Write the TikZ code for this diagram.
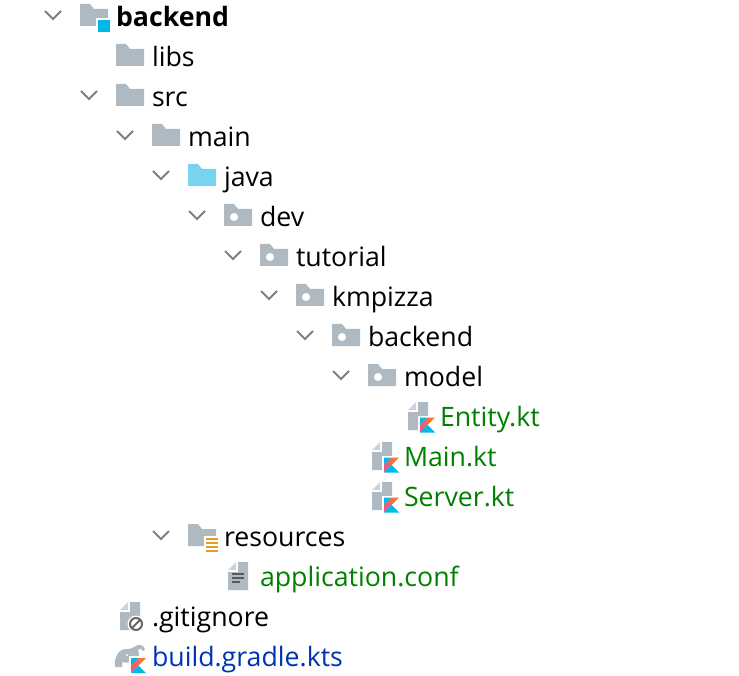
\documentclass[tikz,border=0pt]{standalone}
\usepackage{fontspec}
\setmainfont{Open Sans}
\usepackage{xcolor}
\definecolor{icongray}{HTML}{AFB9C1}
\definecolor{foldgray}{HTML}{CDD3D8}
\definecolor{chevgray}{HTML}{7F7F7F}
\definecolor{javablue}{HTML}{76D4EF}
\definecolor{modblue}{HTML}{00B8E6}
\definecolor{resorange}{HTML}{E2A024}
\definecolor{vcsgreen}{HTML}{008000}
\definecolor{vcsblue}{HTML}{0033B3}
\definecolor{ktpink}{HTML}{E8558F}
\definecolor{ktorange}{HTML}{F88909}

\begin{document}
\begin{tikzpicture}[
    x=1pt, y=-1pt,
    lbl/.style={anchor=base west, inner sep=0pt, outer sep=0pt, yshift=-0.5pt, font=\fontsize{26.7}{30}\selectfont},
    added/.style={lbl, text=vcsgreen},
    gradlefile/.style={lbl, text=vcsblue},
    chev/.pic={\draw[chevgray, line width=1.8pt] (-8,-6) -- (0,2) -- (8,-6);},
    folder/.pic={\fill[icongray] (0,-13) -- (10,-13) -- (14,-8) -- (28,-8) -- (28,9) -- (0,9) -- cycle;},
    srcfolder/.pic={\fill[javablue] (0,-13) -- (10,-13) -- (14,-8) -- (28,-8) -- (28,9) -- (0,9) -- cycle;},
    pkg/.pic={\pic {folder};
              \fill[white] (10,0) circle (4);},
    page/.pic={\fill[foldgray] (0,-7) -- (8,-15) -- (8,-7) -- cycle;
               \fill[icongray] (10,-15) -- (20,-15) -- (20,13) -- (0,13) -- (0,-5) -- (10,-5) -- cycle;},
    kotlin/.pic={\fill[white] (-2,-2) rectangle (15,15);
                 \fill[modblue] (0,0) -- (7.5,0) -- (0,7.5) -- cycle;
                 \shade[left color=ktpink, middle color=ktorange!80!ktpink, right color=ktorange] (7.5,0) -- (15,0) -- (0,15) -- (0,7.5) -- cycle;
                 \fill[modblue] (7.5,7.5) -- (15,15) -- (0,15) -- cycle;},
    ktfile/.pic={\pic {page}; \pic at (12,0.5) {kotlin};}
]
\useasboundingbox (0,0) rectangle (739,676);

% project root, with the module mark
\pic at (53,17) {chev};
\pic at (80,17) {folder};
\fill[white] (96,18) rectangle (112,34);
\fill[modblue] (98,20) rectangle (110,32);
\node[lbl, font=\fontsize{26.7}{30}\selectfont\bfseries] (root) at (116,26) {backend};

\pic at (116,57) {folder};
\node[lbl] (libs) at (152,66) {libs};

\pic at (89,97) {chev};
\pic at (116,97) {folder};
\node[lbl] (src) at (152,106) {src};

\pic at (125,137) {chev};
\pic at (152,137) {folder};
\node[lbl] (main) at (188,146) {main};

\pic at (161,177) {chev};
\pic at (188,177) {srcfolder};
\node[lbl] (java) at (224,186) {java};

\pic at (197,217) {chev};
\pic at (224,217) {pkg};
\node[lbl] (dev) at (260,226) {dev};

\pic at (233,257) {chev};
\pic at (260,257) {pkg};
\node[lbl] (tutorial) at (296,266) {tutorial};

\pic at (269,297) {chev};
\pic at (296,297) {pkg};
\node[lbl] (kmpizza) at (332,306) {kmpizza};

\pic at (305,337) {chev};
\pic at (332,337) {pkg};
\node[lbl] (backend) at (368,346) {backend};

\pic at (341,377) {chev};
\pic at (368,377) {pkg};
\node[lbl] (model) at (404,386) {model};

\pic at (408,417) {ktfile};
\node[added] (entity) at (440,426) {Entity.kt};

\pic at (372,457) {ktfile};
\node[added] (mainkt) at (404,466) {Main.kt};

\pic at (372,497) {ktfile};
\node[added] (server) at (404,506) {Server.kt};

% resources folder carries the orange lines
\pic at (161,537) {chev};
\pic at (188,537) {folder};
\fill[white] (204,536) rectangle (220,554);
\fill[resorange] (206,538) rectangle (218,540);
\fill[resorange] (206,542) rectangle (218,544);
\fill[resorange] (206,546) rectangle (218,548);
\fill[resorange] (206,550) rectangle (218,552);
\node[lbl] (resources) at (224,546) {resources};

\pic at (228,577) {page};
\fill[black!65] (232,573) rectangle (244,575);
\fill[black!65] (232,577) rectangle (244,579);
\fill[black!65] (232,581) rectangle (240,583);
\node[added] (conf) at (260,586) {application.conf};

\pic at (120,617) {page};
\fill[white] (136,624) circle (8.5);
\draw[black!60, line width=2pt] (136,624) circle (6) (131.8,628.2) -- (140.2,619.8);
\node[lbl] (gitignore) at (152,626) {.gitignore};

% elephant, then the kotlin mark on top
\fill[icongray] (115,667) .. controls (114,656) and (119,648) .. (128,649)
    .. controls (131,649) and (133,648) .. (135,646.5) .. controls (138,644) and (144,644) .. (145,650)
    -- (142.5,651) .. controls (142,648) and (139,648) .. (138,650) .. controls (140,655) and (139,660) .. (136,667)
    -- (131,667) -- (130,662) .. controls (127,663) and (125,663) .. (122.5,662) -- (122,667) -- cycle;
\fill[white] (127,655) circle (1.2);
\pic at (131,658) {kotlin};
\node[gradlefile] (gradle) at (152,666) {build.gradle.kts};
\end{tikzpicture}
\end{document}
